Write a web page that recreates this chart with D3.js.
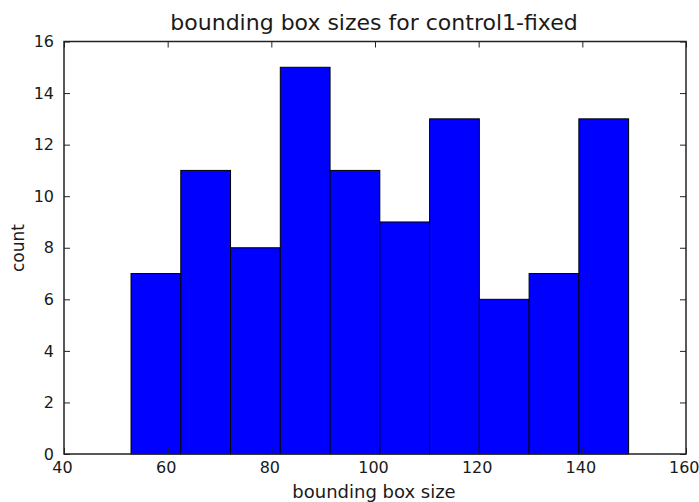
<!DOCTYPE html>
<html>
<head>
<meta charset="utf-8">
<script src="https://cdn.jsdelivr.net/npm/d3@7"></script>
<style>
  html, body { margin: 0; padding: 0; background: #fff; }
  text { font-family: "DejaVu Sans", sans-serif; fill: #1a1a1a; }
</style>
</head>
<body>
<svg id="chart" width="699" height="502"></svg>
<script>
// Histogram of bounding box sizes
const binEdges = [52.93, 62.53, 72.13, 81.73, 91.33, 100.93, 110.53, 120.13, 129.73, 139.33, 148.93];
const counts = [7, 11, 8, 15, 11, 9, 13, 6, 7, 13];
const xTicks = [40, 60, 80, 100, 120, 140, 160];
const yTicks = [0, 2, 4, 6, 8, 10, 12, 14, 16];

const margin = { left: 64, right: 13, top: 41.5, bottom: 48 };
const W = 699, H = 502;
const svg = d3.select("#chart");

const x = d3.scaleLinear().domain([40, 160]).range([margin.left, W - margin.right]);
const y = d3.scaleLinear().domain([0, 16]).range([H - margin.bottom, margin.top]);

const bins = counts.map((c, i) => ({ x0: binEdges[i], x1: binEdges[i + 1], count: c }));

svg.append("g").selectAll("rect").data(bins).join("rect")
  .attr("x", d => x(d.x0))
  .attr("y", d => y(d.count))
  .attr("width", d => x(d.x1) - x(d.x0))
  .attr("height", d => y(0) - y(d.count))
  .attr("fill", "#0000ff")
  .attr("stroke", "#000")
  .attr("stroke-width", 1);

// Inward ticks on all four sides
const tickLen = 6;
const bottomAxis = d3.axisBottom(x).tickValues(xTicks).tickSizeInner(-tickLen).tickSizeOuter(0).tickPadding(8).tickFormat(d3.format("d"));
const topAxis = d3.axisTop(x).tickValues(xTicks).tickSizeInner(-tickLen).tickSizeOuter(0).tickFormat("");
const leftAxis = d3.axisLeft(y).tickValues(yTicks).tickSizeInner(-tickLen).tickSizeOuter(0).tickPadding(10).tickFormat(d3.format("d"));
const rightAxis = d3.axisRight(y).tickValues(yTicks).tickSizeInner(-tickLen).tickSizeOuter(0).tickFormat("");

function styleAxis(g) {
  g.select(".domain").remove();
  g.selectAll("line").attr("stroke", "#222");
  g.selectAll("text").attr("font-size", 16).attr("font-family", "DejaVu Sans, sans-serif").attr("fill", "#1a1a1a");
}

const gx = svg.append("g").attr("transform", `translate(0,${y(0)})`).call(bottomAxis).call(styleAxis);
svg.append("g").attr("transform", `translate(0,${y(16)})`).call(topAxis).call(styleAxis);
svg.append("g").attr("transform", `translate(${x(40)},0)`).call(leftAxis).call(styleAxis);
svg.append("g").attr("transform", `translate(${x(160)},0)`).call(rightAxis).call(styleAxis);

// Nudge x tick labels slightly left, keeping the last one inside the canvas
gx.selectAll(".tick text").attr("dx", -2);
gx.selectAll(".tick text").each(function (d) {
  const bb = this.getBBox();
  const right = x(d) + bb.x + bb.width - 2;
  if (right > W - 2) d3.select(this).attr("dx", -2 - (right - (W - 2)));
});

// Frame
svg.append("rect")
  .attr("x", x(40)).attr("y", y(16))
  .attr("width", x(160) - x(40)).attr("height", y(0) - y(16))
  .attr("fill", "none").attr("stroke", "#222").attr("stroke-width", 1.5);

// Title and axis labels
svg.append("text")
  .attr("x", 374).attr("y", 30)
  .attr("text-anchor", "middle").attr("font-size", 22)
  .text("bounding box sizes for control1-fixed");

svg.append("text")
  .attr("x", 374).attr("y", 498)
  .attr("text-anchor", "middle").attr("font-size", 18)
  .text("bounding box size");

svg.append("text")
  .attr("transform", `translate(24,248) rotate(-90)`)
  .attr("text-anchor", "middle").attr("font-size", 17)
  .text("count");
</script>
</body>
</html>
